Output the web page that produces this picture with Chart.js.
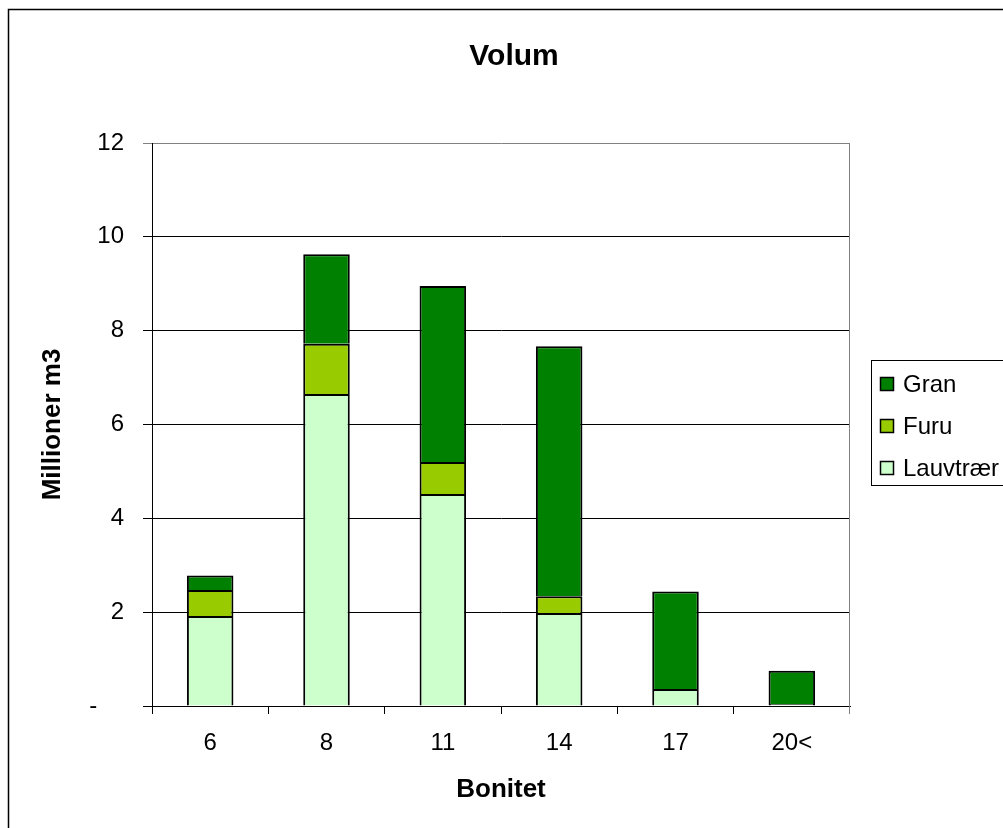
<!DOCTYPE html>
<html>
<head>
<meta charset="utf-8">
<title>Volum</title>
<script src="https://cdn.jsdelivr.net/npm/chart.js@4.4.0/dist/chart.umd.min.js"></script>
<style>
  html, body { margin: 0; padding: 0; background: #ffffff; }
  canvas { display: block; }
</style>
</head>
<body>
<canvas id="chart" width="1003" height="828"></canvas>
<script>
// Volume by site index class (million m3), stacked by tree species
const categories = ['6', '8', '11', '14', '17', '20<'];
const lauvtraer = [1.92, 6.65, 4.52, 1.98, 0.36, 0.04];
const furu = [0.55, 1.07, 0.68, 0.36, 0, 0];
const gran = [0.31, 1.91, 3.75, 5.33, 2.08, 0.71];
const yTickLabels = ['-\u00a0\u00a0\u00a0\u00a0', '2', '4', '6', '8', '10', '12'];

const FONT = '"Liberation Sans", Arial, sans-serif';

// Outer frame, chart title, plot-area right edge and the boxed legend
const decorations = {
  id: 'decorations',
  beforeDatasetsDraw(chart) {
    const { ctx, chartArea } = chart;
    ctx.save();
    ctx.strokeStyle = '#808080';
    ctx.lineWidth = 1;
    ctx.beginPath();
    ctx.moveTo(Math.round(chartArea.right) - 0.5, chartArea.top);
    ctx.lineTo(Math.round(chartArea.right) - 0.5, chartArea.bottom + 8);
    ctx.stroke();
    ctx.restore();
  },
  afterDraw(chart) {
    const { ctx } = chart;
    ctx.save();
    // frame around the whole chart
    ctx.strokeStyle = '#000000';
    ctx.lineWidth = 1.5;
    ctx.strokeRect(8.5, 9.5, 1200, 1000);

    // title
    ctx.fillStyle = '#000000';
    ctx.font = 'bold 30px ' + FONT;
    ctx.textAlign = 'center';
    ctx.textBaseline = 'alphabetic';
    ctx.fillText('Volum', 514, 65);

    // legend box
    ctx.strokeStyle = '#000000';
    ctx.lineWidth = 1;
    ctx.strokeRect(871.5, 360.5, 400, 125);

    // legend entries, top to bottom in reverse stacking order
    const items = chart.data.datasets.slice().reverse();
    ctx.font = '24px ' + FONT;
    ctx.textAlign = 'left';
    items.forEach((ds, i) => {
      const base = 392 + i * 42;
      ctx.fillStyle = ds.backgroundColor;
      ctx.fillRect(880, base - 15, 14, 14);
      ctx.strokeStyle = '#000000';
      ctx.lineWidth = 1.5;
      ctx.strokeRect(880.5, base - 14.5, 13, 13);
      ctx.fillStyle = '#000000';
      ctx.fillText(ds.label, 903, base);
    });
    ctx.restore();
  }
};

const barStyle = {
  borderColor: '#000000',
  borderWidth: 2,
  borderSkipped: 'start',
  barPercentage: 0.4,
  categoryPercentage: 1.0
};

new Chart(document.getElementById('chart'), {
  type: 'bar',
  data: {
    labels: categories,
    datasets: [
      Object.assign({ label: 'Lauvtrær', data: lauvtraer, backgroundColor: '#CCFFCC' }, barStyle),
      Object.assign({ label: 'Furu', data: furu, backgroundColor: '#99CC00' }, barStyle),
      Object.assign({ label: 'Gran', data: gran, backgroundColor: '#008000' }, barStyle)
    ]
  },
  options: {
    responsive: false,
    animation: false,
    devicePixelRatio: 1,
    layout: { padding: { top: 143, right: 153, bottom: 0, left: 0 } },
    plugins: {
      legend: { display: false },
      title: { display: false },
      tooltip: { enabled: false }
    },
    scales: {
      x: {
        stacked: true,
        afterFit(scale) { scale.height = 122; },
        grid: {
          offset: true,
          drawOnChartArea: false,
          drawTicks: true,
          tickLength: 8,
          color: '#000000'
        },
        border: { display: true, color: '#000000', width: 1 },
        ticks: {
          color: '#000000',
          font: { family: FONT, size: 24 },
          padding: 15,
          maxRotation: 0
        },
        title: {
          display: true,
          text: 'Bonitet',
          color: '#000000',
          font: { family: FONT, size: 26, weight: 'bold' },
          padding: { top: 0, bottom: 23 }
        }
      },
      y: {
        stacked: true,
        min: 0,
        max: 12,
        afterFit(scale) { scale.width = 152; },
        grid: {
          color: (c) => (c.tick && c.tick.value === 12 ? '#808080' : '#000000'),
          lineWidth: 1,
          drawTicks: true,
          tickLength: 9
        },
        border: { display: true, color: '#000000', width: 1 },
        ticks: {
          stepSize: 2,
          color: '#000000',
          font: { family: FONT, size: 24 },
          padding: 19,
          callback: (value, index) => yTickLabels[index]
        },
        title: {
          display: true,
          text: 'Millioner m3',
          color: '#000000',
          font: { family: FONT, size: 26, weight: 'bold' },
          padding: { top: 37, bottom: 0 }
        }
      }
    }
  },
  plugins: [decorations]
});
</script>
</body>
</html>
